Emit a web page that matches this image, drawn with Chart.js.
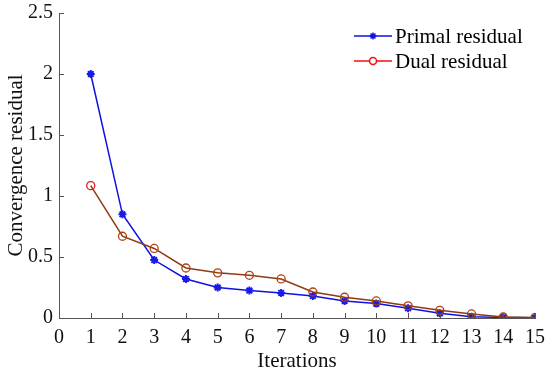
<!DOCTYPE html>
<html>
<head>
<meta charset="utf-8">
<script src="https://cdn.jsdelivr.net/npm/chart.js@4"></script>
<style>
  html, body { margin: 0; padding: 0; background: #fff; }
  #wrap { width: 550px; height: 374px; position: relative; }
</style>
</head>
<body>
<div id="wrap"><canvas id="myChart"></canvas></div>
<script>
  'use strict';

  // iterations on the x axis
  const iterations = [1, 2, 3, 4, 5, 6, 7, 8, 9, 10, 11, 12, 13, 14, 15];
  const primalResidual = [2.0, 0.85, 0.475, 0.32, 0.25, 0.225, 0.205, 0.18, 0.14, 0.118, 0.08, 0.038, 0.01, 0.005, 0.002];
  const dualResidual = [1.085, 0.67, 0.57, 0.41, 0.37, 0.35, 0.32, 0.213, 0.17, 0.14, 0.10, 0.063, 0.033, 0.008, 0.004];
  const seriesNames = ['Primal residual', 'Dual residual'];

  const serif = "'Liberation Serif', 'Times New Roman', serif";
  const axisColor = '#555';

  function toPoints (ys) {
    let pts = [];
    for (let i = 0; i < iterations.length; i++) {
      pts.push({ x: iterations[i], y: ys[i] });
    }
    return pts;
  }

  // dual markers: first one is bright red, the rest look brownish
  let dualMarkerColors = dualResidual.map(function (v, i) { return i === 0 ? '#e8141a' : '#b0400f'; });

  // draws inward tick marks and the legend inside the plot, top right
  const extras = {
    id: 'extras',
    afterDraw: function (chart) {
      const c = chart.ctx;
      const xs = chart.scales.x;
      const ys = chart.scales.y;
      const area = chart.chartArea;
      c.save();
      c.strokeStyle = axisColor;
      c.lineWidth = 1;
      c.beginPath();
      for (let t = 0; t <= 15; t++) {
        const px = Math.round(xs.getPixelForValue(t)) + 0.5;
        c.moveTo(px, area.bottom);
        c.lineTo(px, area.bottom - 5);
      }
      for (let v = 0; v <= 2.5; v += 0.5) {
        const py = Math.round(ys.getPixelForValue(v)) + 0.5;
        c.moveTo(area.left, py);
        c.lineTo(area.left + 5, py);
      }
      c.stroke();

      // legend
      const items = [
        { name: seriesNames[0], color: '#1010e6', style: 'star' },
        { name: seriesNames[1], color: '#ee1111', style: 'circle' }
      ];
      c.font = '21px ' + serif;
      c.textBaseline = 'middle';
      for (let i = 0; i < items.length; i++) {
        const y = 36 + i * 25;
        const x0 = 354;
        const x1 = 392;
        c.strokeStyle = items[i].color;
        c.lineWidth = 1.5;
        c.beginPath();
        c.moveTo(x0, y);
        c.lineTo(x1, y);
        c.stroke();
        c.fillStyle = '#fff';
        Chart.helpers.drawPoint(c, { pointStyle: items[i].style, radius: 3.5, borderWidth: 1.5 }, (x0 + x1) / 2, y);
        c.fillStyle = '#000';
        c.fillText(items[i].name, 395, y + 1);
      }
      c.restore();
    }
  };

  const ctx = document.getElementById('myChart');
  const myChart = new Chart(ctx, {
    type: 'line',
    data: {
      datasets: [{
        label: seriesNames[0],
        data: toPoints(primalResidual),
        borderColor: '#1010e6',
        borderWidth: 1.5,
        pointStyle: 'star',
        pointRadius: 4,
        pointBorderColor: '#1a1ae8',
        pointBorderWidth: 2,
        pointBackgroundColor: '#1a1ae8',
        tension: 0,
        order: 2
      }, {
        label: seriesNames[1],
        data: toPoints(dualResidual),
        borderColor: '#8f3b12',
        borderWidth: 1.5,
        pointStyle: 'circle',
        pointRadius: 4,
        pointBorderColor: dualMarkerColors,
        pointBorderWidth: 1.3,
        pointBackgroundColor: 'rgba(0,0,0,0)',
        tension: 0,
        order: 1
      }]
    },
    options: {
      responsive: true,
      maintainAspectRatio: false,
      animation: false,
      layout: { padding: { top: 13, right: 15, left: 4, bottom: 0 } },
      plugins: {
        legend: { display: false },
        tooltip: { enabled: false }
      },
      scales: {
        x: {
          type: 'linear',
          min: 0,
          max: 15,
          ticks: {
            stepSize: 1,
            color: '#111',
            padding: 8,
            maxRotation: 0,
            font: { family: serif, size: 20 }
          },
          grid: { display: false, drawTicks: false },
          border: { color: axisColor, width: 1 },
          title: {
            display: true,
            text: 'Iterations',
            color: '#111',
            padding: { top: 0, bottom: 0 },
            font: { family: serif, size: 21 }
          },
          afterFit: function (scale) {
            scale.height = 56;
            scale.paddingRight = 0;
            scale.paddingLeft = 0;
          }
        },
        y: {
          min: 0,
          max: 2.5,
          ticks: {
            stepSize: 0.5,
            color: '#111',
            padding: 6,
            font: { family: serif, size: 20 },
            callback: function (v) { return String(v); }
          },
          grid: { display: false, drawTicks: false },
          border: { color: axisColor, width: 1 },
          title: {
            display: true,
            text: 'Convergence residual',
            color: '#111',
            padding: { top: 0, bottom: 2 },
            font: { family: serif, size: 21 }
          },
          afterFit: function (scale) {
            scale.width = 55;
            scale.paddingTop = 0;
            scale.paddingBottom = 0;
          }
        }
      }
    },
    plugins: [extras]
  });
</script>
</body>
</html>
